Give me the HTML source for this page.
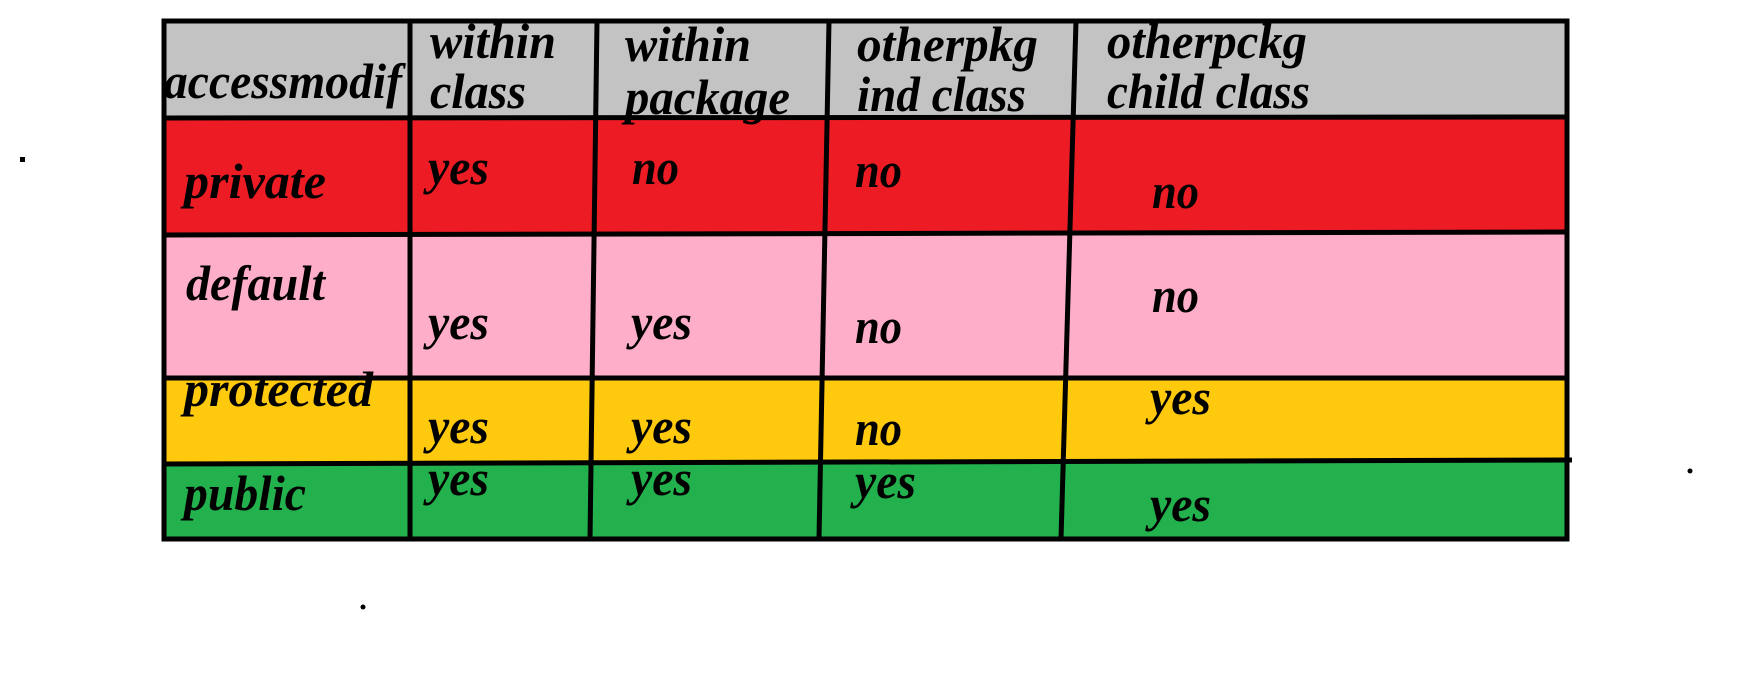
<!DOCTYPE html>
<html><head><meta charset="utf-8"><style>
html,body{margin:0;padding:0;background:#fff;width:1745px;height:675px;overflow:hidden}
svg text{font-family:"Liberation Serif",serif;font-weight:bold;font-style:italic;font-size:50px;fill:#000}
</style></head><body>
<svg width="1745" height="675" viewBox="0 0 1745 675">
<g>
<rect x="162" y="19" width="1407" height="99" fill="#c3c3c3"/>
<rect x="162" y="118" width="1407" height="116" fill="#ed1c24"/>
<rect x="162" y="234" width="1407" height="144" fill="#ffaec9"/>
<rect x="162" y="378" width="1407" height="84" fill="#ffc90e"/>
<rect x="162" y="462" width="1407" height="79" fill="#22b14c"/>
</g>
<g>
<text x="164" y="98" textLength="238" lengthAdjust="spacingAndGlyphs">accessmodif</text>
<text x="430" y="58" textLength="126" lengthAdjust="spacingAndGlyphs">within</text>
<text x="430" y="108" textLength="96" lengthAdjust="spacingAndGlyphs">class</text>
<text x="625" y="61" textLength="126" lengthAdjust="spacingAndGlyphs">within</text>
<text x="625" y="114" textLength="165" lengthAdjust="spacingAndGlyphs">package</text>
<text x="857" y="61" textLength="181" lengthAdjust="spacingAndGlyphs">otherpkg</text>
<text x="857" y="111" textLength="169" lengthAdjust="spacingAndGlyphs">ind class</text>
<text x="1107" y="58" textLength="200" lengthAdjust="spacingAndGlyphs">otherpckg</text>
<text x="1107" y="108" textLength="203" lengthAdjust="spacingAndGlyphs">child class</text>

<text x="184" y="198" textLength="142" lengthAdjust="spacingAndGlyphs">private</text>
<text x="428" y="184" textLength="61" lengthAdjust="spacingAndGlyphs">yes</text>
<text x="632" y="184" textLength="47" lengthAdjust="spacingAndGlyphs">no</text>
<text x="855" y="187" textLength="47" lengthAdjust="spacingAndGlyphs">no</text>
<text x="1152" y="208" textLength="47" lengthAdjust="spacingAndGlyphs">no</text>

<text x="186" y="300" textLength="139" lengthAdjust="spacingAndGlyphs">default</text>
<text x="428" y="339" textLength="61" lengthAdjust="spacingAndGlyphs">yes</text>
<text x="631" y="339" textLength="61" lengthAdjust="spacingAndGlyphs">yes</text>
<text x="855" y="343" textLength="47" lengthAdjust="spacingAndGlyphs">no</text>
<text x="1152" y="312" textLength="47" lengthAdjust="spacingAndGlyphs">no</text>

<text x="184" y="406" textLength="189" lengthAdjust="spacingAndGlyphs">protected</text>
<text x="428" y="443" textLength="61" lengthAdjust="spacingAndGlyphs">yes</text>
<text x="631" y="443" textLength="61" lengthAdjust="spacingAndGlyphs">yes</text>
<text x="855" y="445" textLength="47" lengthAdjust="spacingAndGlyphs">no</text>
<text x="1150" y="414" textLength="61" lengthAdjust="spacingAndGlyphs">yes</text>

<text x="184" y="510" textLength="122" lengthAdjust="spacingAndGlyphs">public</text>
<text x="428" y="495" textLength="61" lengthAdjust="spacingAndGlyphs">yes</text>
<text x="631" y="495" textLength="61" lengthAdjust="spacingAndGlyphs">yes</text>
<text x="855" y="498" textLength="61" lengthAdjust="spacingAndGlyphs">yes</text>
<text x="1150" y="521" textLength="61" lengthAdjust="spacingAndGlyphs">yes</text>
</g>
<g stroke="#000" stroke-width="5" fill="none">
<rect x="164" y="21" width="1403" height="518"/>
<line x1="162" y1="118" x2="1569" y2="117"/>
<line x1="162" y1="235" x2="1569" y2="232"/>
<line x1="162" y1="378" x2="1569" y2="378"/>
<line x1="162" y1="464" x2="1572" y2="460"/>
<line x1="410" y1="21" x2="410" y2="539"/>
<line x1="597" y1="21" x2="590" y2="539"/>
<line x1="829" y1="21" x2="819" y2="539"/>
<line x1="1076" y1="21" x2="1061" y2="539"/>
</g>
<rect x="20" y="157" width="5" height="5" fill="#000"/>
<circle cx="1690" cy="471" r="2.5" fill="#000"/>
<circle cx="363" cy="607" r="2.5" fill="#000"/>
</svg>
</body></html>
